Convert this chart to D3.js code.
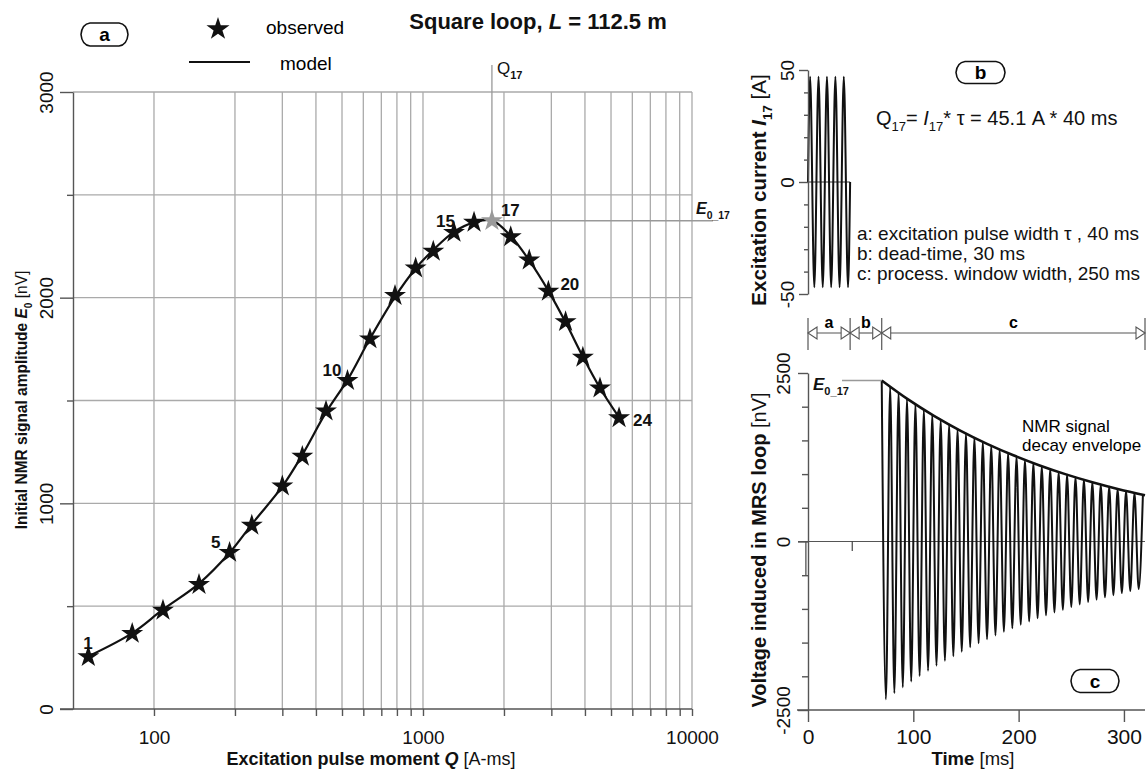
<!DOCTYPE html>
<html>
<head>
<meta charset="utf-8">
<script src="https://cdn.jsdelivr.net/npm/d3@7/dist/d3.min.js"></script>
<style>
  body { margin: 0; background: #fff; }
  svg { display: block; font-family: "Liberation Sans", Arial, sans-serif; }
</style>
</head>
<body>
<svg id="chart" width="1148" height="769"></svg>
<script>
// ---------- data ----------

// panel a: pulse sequence
const pulseNo = [1, 2, 3, 4, 5, 6, 7, 8, 9, 10, 11, 12, 13, 14, 15, 16, 17, 18, 19, 20, 21, 22, 23, 24];
const pulseMomentQ = [57, 83, 108, 147, 191, 231, 300, 356, 436, 524, 635, 787, 939, 1092, 1304, 1548, 1804, 2119, 2483, 2925, 3389, 3929, 4549, 5356];
const observedE0 = [254, 367, 480, 605, 761, 893, 1084, 1228, 1448, 1597, 1799, 2010, 2144, 2225, 2317, 2366, 2374, 2296, 2183, 2031, 1883, 1710, 1560, 1416];
const modelE0 = [256, 369, 484, 610, 760, 898, 1082, 1236, 1442, 1600, 1800, 2004, 2142, 2232, 2320, 2366, 2376, 2300, 2181, 2033, 1880, 1713, 1561, 1418];
const labelledPulses = [1, 5, 10, 15, 17, 20, 24];
const highlightPulse = 17;
const xTicksA = [100, 200, 300, 400, 500, 600, 700, 800, 900, 1000, 2000, 3000, 4000, 5000, 6000, 7000, 8000, 9000, 10000];
const xLabelsA = [100, 1000, 10000];
const yTicksA = [0, 500, 1000, 1500, 2000, 2500, 3000];

// panel b: excitation current (extrema of the oscillation)
const currentT = [0, 2, 6, 10, 14, 18, 22, 26, 30, 34, 38, 40];
const currentI = [0, 47, -47, 47, -47, 47, -47, 47, -47, 47, -47, 0];
const yTicksB = [-50, -40, -30, -20, -10, 0, 10, 20, 30, 40, 50];

// panel c: induced voltage (extrema of the oscillation) and decay envelope
const signalT = [70, 74, 78, 82, 86, 90, 94, 98, 102, 106, 110, 114, 118, 122, 126, 130, 134, 138, 142, 146,
  150, 154, 158, 162, 166, 170, 174, 178, 182, 186, 190, 194, 198, 202, 206, 210, 214, 218, 222, 226,
  230, 234, 238, 242, 246, 250, 254, 258, 262, 266, 270, 274, 278, 282, 286, 290, 294, 298, 302, 306,
  310, 314, 318];
const signalV = [2389, -2342, 2296, -2250, 2206, -2162, 2119, -2077, 2036, -1996, 1956, -1918, 1880, -1842, 1806, -1770, 1735, -1701, 1667, -1634,
  1602, -1570, 1539, -1509, 1479, -1450, 1421, -1393, 1365, -1338, 1312, -1286, 1260, -1235, 1211, -1187, 1163, -1140, 1118, -1096,
  1074, -1053, 1032, -1012, 992, -972, 953, -934, 915, -897, 879, -862, 845, -828, 812, -796, 780, -765, 750, -735,
  720, -706, 692];
const envelopeT = [70, 95, 120, 145, 170, 195, 220, 245, 270, 295, 320];
const envelopeV = [2389, 2108, 1861, 1642, 1449, 1279, 1129, 996, 879, 776, 685];
const residueT = [-2, 42];
const residueV = [-500, -140];
const yTicksC = [-2500, -2000, -1500, -1000, -500, 0, 500, 1000, 1500, 2000, 2500];
const timeTicks = [0, 100, 200, 300];
const windowEdges = [0, 40, 70, 320];
const windowNames = ['a', 'b', 'c'];

// ---------- helpers ----------
const svg = d3.select('#chart');
const GRID = '#aaaaaa';
const AXIS = '#555555';

// text made of styled pieces: {t, b: bold, i: italic, sub: subscript}
function richText(parent, parts, size) {
  const text = parent.append('text').style('font-size', size + 'px').attr('fill', '#111');
  let shift = 0;
  parts.forEach(p => {
    const target = p.sub ? size * 0.3 : 0;
    const ts = text.append('tspan')
      .text(p.t)
      .attr('dy', target - shift)
      .style('font-weight', p.b ? 'bold' : 'normal')
      .style('font-style', p.i ? 'italic' : 'normal');
    if (p.sub) ts.style('font-size', (size * 0.65) + 'px');
    shift = target;
  });
  return text;
}

// little "(a)" style panel badge
function badge(cx, cy, w, h, letter) {
  const x0 = cx - w / 2, x1 = cx + w / 2, y0 = cy - h / 2, y1 = cy + h / 2;
  const e = 9;
  const d = `M${x0 + e},${y0} L${x1 - e},${y0} Q${x1 - 1},${y0 + 1} ${x1},${cy} Q${x1 - 1},${y1 - 1} ${x1 - e},${y1}` +
    ` L${x0 + e},${y1} Q${x0 + 1},${y1 - 1} ${x0},${cy} Q${x0 + 1},${y0 + 1} ${x0 + e},${y0} Z`;
  svg.append('path').attr('d', d).attr('fill', '#fff').attr('stroke', '#111').attr('stroke-width', 1.6);
  svg.append('text').attr('x', cx).attr('y', cy + 6.5).attr('text-anchor', 'middle')
    .style('font-size', '19px').style('font-weight', 'bold').text(letter);
}

function styleAxis(g) {
  g.selectAll('.domain').attr('stroke', AXIS).attr('stroke-width', 1.4);
  g.selectAll('.tick line').attr('stroke', AXIS).attr('stroke-width', 1.4);
  g.selectAll('.tick text').attr('fill', '#111').style('font-family', '"Liberation Sans", Arial, sans-serif');
}

const star = d3.symbol().type(d3.symbolStar);

// ---------- panel a ----------
const xA = d3.scaleLog().domain([50, 10000]).range([73, 692]);
const yA = d3.scaleLinear().domain([0, 3000]).range([709, 92]);
const gA = svg.append('g');

// grid
gA.selectAll('line.vgrid').data(xTicksA).join('line')
  .attr('x1', d => xA(d)).attr('x2', d => xA(d))
  .attr('y1', yA(0)).attr('y2', yA(3000))
  .attr('stroke', GRID).attr('stroke-width', 1.3);
gA.selectAll('line.hgrid').data(yTicksA.filter(d => d > 0)).join('line')
  .attr('x1', xA(50)).attr('x2', xA(10000))
  .attr('y1', d => yA(d)).attr('y2', d => yA(d))
  .attr('stroke', GRID).attr('stroke-width', 1.3);

// axes
const xAxisA = gA.append('g').attr('transform', `translate(0,${yA(0)})`)
  .call(d3.axisBottom(xA).tickValues(xTicksA).tickSize(7)
    .tickFormat(d => xLabelsA.includes(d) ? d : ''));
xAxisA.select('.domain').remove();
xAxisA.selectAll('.tick text').attr('y', 35).attr('dy', 0).style('font-size', '19px');
styleAxis(xAxisA);
gA.append('line').attr('x1', xA(50) - 13).attr('x2', xA(10000))
  .attr('y1', yA(0)).attr('y2', yA(0)).attr('stroke', AXIS).attr('stroke-width', 1.4);

const yAxisA = gA.append('g').attr('transform', `translate(${xA(50)},0)`)
  .call(d3.axisLeft(yA).tickValues(yTicksA).tickSize(6).tickSizeOuter(0)
    .tickFormat(d => d % 1000 === 0 ? d : ''));
yAxisA.selectAll('.tick line').attr('x2', d => d % 1000 === 0 ? -13 : -6);
yAxisA.selectAll('.tick text').attr('x', 0).attr('dy', 0)
  .attr('transform', 'translate(-20,0) rotate(-90)').attr('text-anchor', 'middle')
  .style('font-size', '19px');
styleAxis(yAxisA);

// axis titles
richText(gA, [{ t: 'Excitation pulse moment ', b: 1 }, { t: 'Q', b: 1, i: 1 }, { t: ' [A-ms]' }], 18)
  .attr('x', 371).attr('y', 765).attr('text-anchor', 'middle');
richText(gA, [{ t: 'Initial NMR signal amplitude ', b: 1 }, { t: 'E', b: 1, i: 1 }, { t: '0', b: 1, sub: 1 }, { t: ' [nV]' }], 15.5)
  .attr('text-anchor', 'middle').attr('transform', 'translate(27,400) rotate(-90) scale(1,1.12)');

// Q17 / E0_17 cross-hair
const q17 = pulseMomentQ[highlightPulse - 1];
const e17 = observedE0[highlightPulse - 1];
gA.append('line').attr('x1', xA(q17)).attr('x2', xA(q17)).attr('y1', 65).attr('y2', yA(e17))
  .attr('stroke', '#999').attr('stroke-width', 1.3);
gA.append('line').attr('x1', xA(q17)).attr('x2', 713).attr('y1', yA(e17)).attr('y2', yA(e17))
  .attr('stroke', '#999').attr('stroke-width', 1.3);
richText(gA, [{ t: 'Q' }, { t: '17', b: 1, sub: 1 }], 17).attr('x', xA(q17) + 5).attr('y', 74);
richText(gA, [{ t: 'E', b: 1, i: 1 }, { t: '0_17', b: 1, sub: 1 }], 16).attr('x', 696).attr('y', 214);

// model curve
const rowsA = pulseNo.map((n, i) => ({ n, q: pulseMomentQ[i], e: observedE0[i], m: modelE0[i] }));
gA.append('path').datum(rowsA)
  .attr('d', d3.line().x(d => xA(d.q)).y(d => yA(d.m)).curve(d3.curveCatmullRom))
  .attr('fill', 'none').attr('stroke', '#111').attr('stroke-width', 2.2);

// observed stars
gA.selectAll('path.obs').data(rowsA).join('path')
  .attr('class', 'obs')
  .attr('d', star.size(150)())
  .attr('transform', d => `translate(${xA(d.q)},${yA(d.e)})`)
  .attr('fill', d => d.n === highlightPulse ? '#9a9a9a' : '#111');

// pulse number labels
const labelPlace = {
  1: { dx: -5, dy: -8, anchor: 'start' },
  5: { dx: -9, dy: -4, anchor: 'end' },
  10: { dx: -6, dy: -5, anchor: 'end' },
  15: { dx: 1, dy: -5, anchor: 'end' },
  17: { dx: 9, dy: -5, anchor: 'start' },
  20: { dx: 12, dy: -1, anchor: 'start' },
  24: { dx: 14, dy: 8, anchor: 'start' }
};
gA.selectAll('text.pn').data(rowsA.filter(d => labelledPulses.includes(d.n))).join('text')
  .attr('class', 'pn')
  .attr('x', d => xA(d.q) + labelPlace[d.n].dx)
  .attr('y', d => yA(d.e) + labelPlace[d.n].dy)
  .attr('text-anchor', d => labelPlace[d.n].anchor)
  .style('font-size', '17px').style('font-weight', 'bold').attr('fill', '#111')
  .text(d => d.n);

// legend + title
svg.append('path').attr('d', star.size(165)()).attr('transform', 'translate(218,29)').attr('fill', '#111');
svg.append('text').attr('x', 266).attr('y', 34).style('font-size', '19px').text('observed');
svg.append('line').attr('x1', 189).attr('x2', 250).attr('y1', 62).attr('y2', 62)
  .attr('stroke', '#111').attr('stroke-width', 2.2);
svg.append('text').attr('x', 280).attr('y', 70).style('font-size', '19px').text('model');
richText(svg, [{ t: 'Square loop, ', b: 1 }, { t: 'L', b: 1, i: 1 }, { t: ' = 112.5 m', b: 1 }], 22)
  .attr('x', 538).attr('y', 29).attr('text-anchor', 'middle');
badge(104.5, 34.5, 47, 23, 'a');

// ---------- panels b and c (shared time scale) ----------
const xT = d3.scaleLinear().domain([0, 320]).range([808, 1145]);
const yB = d3.scaleLinear().domain([-50, 50]).range([294, 70]);
const yC = d3.scaleLinear().domain([-2500, 2500]).range([710, 373]);

// panel b
const gB = svg.append('g');
gB.append('line').attr('x1', xT(0)).attr('x2', xT(40)).attr('y1', yB(0)).attr('y2', yB(0))
  .attr('stroke', '#333').attr('stroke-width', 1);
const rowsB = currentT.map((t, i) => ({ t, v: currentI[i] }));
gB.append('path').datum(rowsB)
  .attr('d', d3.line().x(d => xT(d.t)).y(d => yB(d.v)).curve(d3.curveMonotoneX))
  .attr('fill', 'none').attr('stroke', '#111').attr('stroke-width', 2);
const yAxisB = gB.append('g').attr('transform', `translate(${xT(0)},0)`)
  .call(d3.axisLeft(yB).tickValues(yTicksB).tickSize(4).tickSizeOuter(0)
    .tickFormat(d => d % 50 === 0 ? d : ''));
yAxisB.selectAll('.tick line').attr('x2', d => d % 50 === 0 ? -9 : -4);
yAxisB.selectAll('.tick text').attr('x', 0).attr('dy', 0)
  .attr('transform', 'translate(-14,0) rotate(-90)').attr('text-anchor', 'middle')
  .style('font-size', '19px');
styleAxis(yAxisB);
richText(gB, [{ t: 'Excitation current ', b: 1 }, { t: 'I', b: 1, i: 1 }, { t: '17', b: 1, sub: 1 }, { t: ' [A]' }], 20.5)
  .attr('text-anchor', 'middle').attr('transform', 'translate(766,190) rotate(-90)');

badge(980.5, 72.5, 49, 22, 'b');
richText(gB, [{ t: 'Q' }, { t: '17', sub: 1 }, { t: '= ' }, { t: 'I', i: 1 }, { t: '17', sub: 1 }, { t: '* τ = 45.1 A * 40 ms' }], 20)
  .attr('x', 876).attr('y', 125);
['a: excitation pulse width τ , 40 ms', 'b: dead-time, 30 ms', 'c: process. window width, 250 ms']
  .forEach((s, i) => {
    gB.append('text').attr('x', 857).attr('y', 240 + i * 20).style('font-size', '19px').attr('fill', '#111').text(s);
  });

// timing dimension arrows
const gW = svg.append('g');
const yW = 333;
gW.selectAll('line.bar').data(windowEdges).join('line')
  .attr('x1', d => xT(d)).attr('x2', d => xT(d)).attr('y1', 318).attr('y2', 350)
  .attr('stroke', AXIS).attr('stroke-width', 1.2);
const spans = windowNames.map((n, i) => ({ n, t0: windowEdges[i], t1: windowEdges[i + 1] }));
spans.forEach(s => {
  const x0 = xT(s.t0), x1 = xT(s.t1);
  gW.append('line').attr('x1', x0).attr('x2', x1).attr('y1', yW).attr('y2', yW)
    .attr('stroke', AXIS).attr('stroke-width', 1.1);
  gW.append('path').attr('d', `M${x0},${yW} L${x0 + 9},${yW - 6} L${x0 + 9},${yW + 6} Z`)
    .attr('fill', '#fff').attr('stroke', AXIS).attr('stroke-width', 1.1);
  gW.append('path').attr('d', `M${x1},${yW} L${x1 - 9},${yW - 6} L${x1 - 9},${yW + 6} Z`)
    .attr('fill', '#fff').attr('stroke', AXIS).attr('stroke-width', 1.1);
  gW.append('text').attr('x', (x0 + x1) / 2).attr('y', 328).attr('text-anchor', 'middle')
    .style('font-size', '16px').style('font-weight', 'bold').text(s.n);
});

// panel c
const gC = svg.append('g');
gC.append('line').attr('x1', xT(0) - 10).attr('x2', xT(320)).attr('y1', yC(0)).attr('y2', yC(0))
  .attr('stroke', AXIS).attr('stroke-width', 1.1);
residueT.forEach((t, i) => {
  gC.append('line').attr('x1', xT(t)).attr('x2', xT(t)).attr('y1', yC(0)).attr('y2', yC(residueV[i]))
    .attr('stroke', '#333').attr('stroke-width', 1.1);
});
const rowsC = signalT.map((t, i) => ({ t, v: signalV[i] }));
gC.append('path').datum(rowsC)
  .attr('d', d3.line().x(d => xT(d.t)).y(d => yC(d.v)).curve(d3.curveMonotoneX))
  .attr('fill', 'none').attr('stroke', '#111').attr('stroke-width', 2);
const rowsEnv = envelopeT.map((t, i) => ({ t, v: envelopeV[i] }));
gC.append('path').datum(rowsEnv)
  .attr('d', d3.line().x(d => xT(d.t)).y(d => yC(d.v)).curve(d3.curveNatural))
  .attr('fill', 'none').attr('stroke', '#111').attr('stroke-width', 2.6);

// E0_17 marker
gC.append('line').attr('x1', 842).attr('x2', xT(envelopeT[0])).attr('y1', yC(envelopeV[0])).attr('y2', yC(envelopeV[0]))
  .attr('stroke', '#999').attr('stroke-width', 1.3);
richText(gC, [{ t: 'E', b: 1, i: 1 }, { t: '0_17', b: 1, sub: 1 }], 17).attr('x', 813).attr('y', 390);

gC.append('text').attr('x', 1022).attr('y', 432).style('font-size', '17px').text('NMR signal');
gC.append('text').attr('x', 1022).attr('y', 451).style('font-size', '17px').text('decay envelope');

const yAxisC = gC.append('g').attr('transform', `translate(${xT(0)},0)`)
  .call(d3.axisLeft(yC).tickValues(yTicksC).tickSize(6).tickSizeOuter(0)
    .tickFormat(d => d % 2500 === 0 ? d : ''));
yAxisC.selectAll('.tick line').attr('x2', d => d % 2500 === 0 ? -10 : -6);
yAxisC.selectAll('.tick text').attr('x', 0).attr('dy', 0)
  .attr('transform', 'translate(-18,0) rotate(-90)').attr('text-anchor', 'middle')
  .style('font-size', '19px');
styleAxis(yAxisC);

const xAxisC = gC.append('g').attr('transform', `translate(0,${yC(-2500)})`)
  .call(d3.axisBottom(xT).tickValues(timeTicks).tickSize(12));
xAxisC.select('.domain').remove();
xAxisC.selectAll('.tick text').attr('y', 34).attr('dy', 0).style('font-size', '21px');
styleAxis(xAxisC);
gC.append('line').attr('x1', xT(0) - 11).attr('x2', xT(320)).attr('y1', yC(-2500)).attr('y2', yC(-2500))
  .attr('stroke', AXIS).attr('stroke-width', 1.4);

richText(gC, [{ t: 'Time', b: 1 }, { t: ' [ms]' }], 18.5).attr('x', 973).attr('y', 765).attr('text-anchor', 'middle');
richText(gC, [{ t: 'Voltage induced in MRS loop', b: 1 }, { t: ' [nV]' }], 20)
  .attr('text-anchor', 'middle').attr('transform', 'translate(766,550) rotate(-90)');

badge(1095, 681, 48, 23, 'c');
</script>
</body>
</html>
